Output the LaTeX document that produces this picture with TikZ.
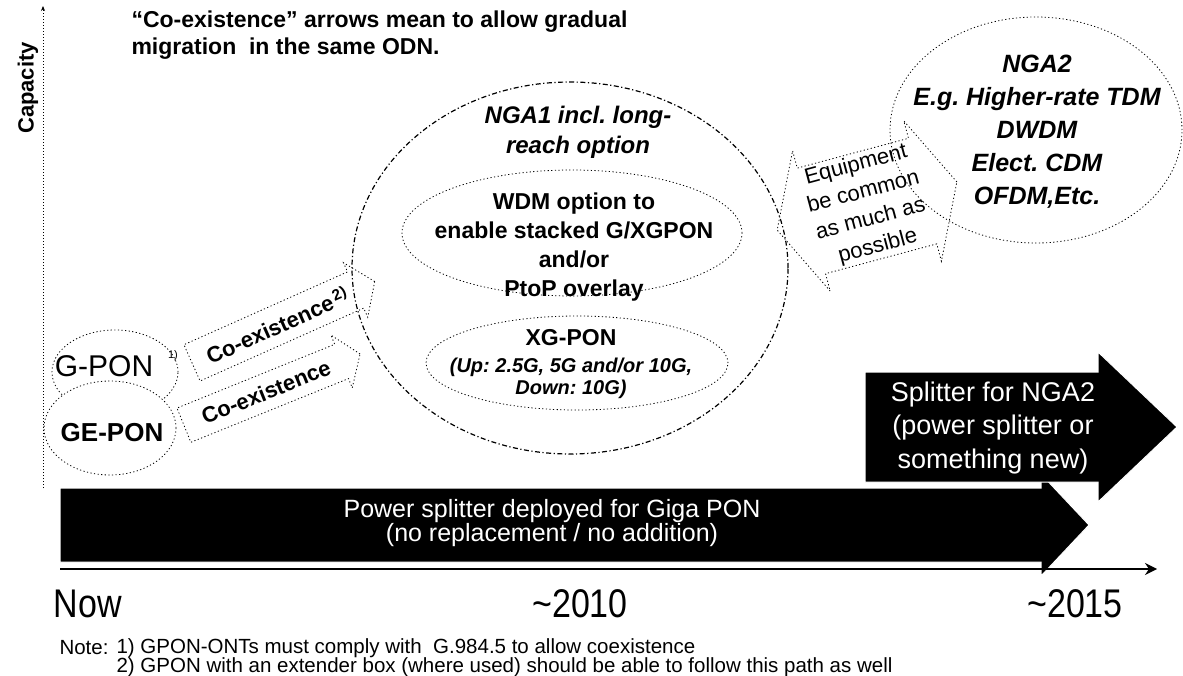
\documentclass[tikz,border=0pt]{standalone}
\usepackage{fontspec}
\setmainfont{Liberation Sans}
\newfontfamily\narrowfont[FakeStretch=0.85]{Liberation Sans}
\usetikzlibrary{arrows.meta,positioning,shapes.geometric,shapes.arrows}
\frenchspacing

\begin{document}
\begin{tikzpicture}[x=1pt, y=-1pt, >=Stealth,
  oval/.style={draw, ellipse, line width=0.8pt, dash pattern=on 1.2pt off 2.4pt, inner sep=0pt},
  bigoval/.style={draw, ellipse, line width=1.2pt, dash pattern=on 5pt off 2.5pt on 1.2pt off 2.5pt, inner sep=0pt},
  coexarrow/.style={draw, single arrow, line width=0.8pt, dash pattern=on 1.2pt off 2.4pt,
    single arrow head extend=10pt, single arrow tip angle=110, inner xsep=3pt, inner ysep=10pt,
    font=\fontsize{22}{22}\selectfont\bfseries},
  equiparrow/.style={draw, double arrow, line width=0.8pt, dash pattern=on 1.2pt off 2.4pt,
    double arrow head extend=18pt, double arrow tip angle=128, minimum height=186pt,
    inner xsep=0pt, inner ysep=2pt, align=center, font=\fontsize{22}{28}\selectfont},
  bigarrow/.style={fill=black, draw=white, line width=1pt},
  boldtxt/.style={align=center, font=\fontsize{23}{29}\selectfont\bfseries},
  italtxt/.style={align=center, font=\fontsize{24}{30}\selectfont\bfseries\itshape},
  whitetxt/.style={align=center, text=white},
  yearlbl/.style={font=\fontsize{40}{40}\narrowfont},
  notelbl/.style={anchor=west, font=\fontsize{20.5}{20.5}\selectfont},
]
\useasboundingbox (0,0) rectangle (1183,676);

  % Axes
  \node (cap) [rotate=90, font=\fontsize{22}{22}\selectfont\bfseries] at (28,88) {Capacity};
  \coordinate (ytop) at (43,6);
  \coordinate (ybot) at (43,488);
  \coordinate (xstart) at (60,569);
  \coordinate (xend) at (1157,569);
  \draw[-{Stealth[length=5pt,width=4pt]}, line width=0.8pt, dash pattern=on 1.2pt off 1.8pt] (ybot) -- (ytop);

  % Black bars
  \draw[bigarrow] (60,488) -- (1041,488) -- (1041,474) -- (1089,525) -- (1041,576) -- (1041,562) -- (60,562) -- cycle;
  \draw[bigarrow] (865,372) -- (1098,372) -- (1098,352) -- (1177,427) -- (1098,502) -- (1098,482) -- (865,482) -- cycle;
  \draw[-{Stealth[length=12pt,width=12pt]}, line width=1.6pt] (xstart) -- (xend);
  \node (powertxt) [whitetxt, font=\fontsize{25}{24}\selectfont] at (552,523) {Power splitter deployed for Giga PON\\(no replacement / no addition)};
  \node (splittxt) [whitetxt, font=\fontsize{27}{33.5}\selectfont] at (993,428) {Splitter for NGA2\\(power splitter or\\something new)};

  % Top remark
  \node (remark) [anchor=west, align=left, font=\fontsize{23}{27}\selectfont\bfseries] at (128,35)
    {“Co-existence” arrows mean to allow gradual\\migration\ \ in the same ODN.};

  % Existing PONs
  \node (gpon) [oval, minimum width=126pt, minimum height=84pt] at (115,372) {};
  \node (gpontxt) [font=\fontsize{30}{30}\selectfont] at (104,366) {G-PON};
  \node (gponfn) [font=\fontsize{11}{11}\selectfont] at (173,356) {1)};
  \node (gepon) [oval, fill=white, minimum width=132pt, minimum height=94pt] at (110,428) {};
  \node (gepontxt) [font=\fontsize{26}{26}\selectfont\bfseries] at (112,433) {GE-PON};

  % Co-existence arrows
  \node (coexup) [coexarrow, rotate=24, minimum height=200pt] at (277,325) {Co-existence\textsuperscript{\,2)}};
  \node (coexlow) [coexarrow, rotate=22, minimum height=190pt] at (266,392) {Co-existence};

  % NGA1
  \node (nga1) [bigoval, minimum width=436pt, minimum height=372pt] at (570,268) {};
  \node (nga1txt) [italtxt] at (578,132) {NGA1 incl. long-\\reach option};
  \node (wdm) [oval, minimum width=340pt, minimum height=126pt] at (572,233) {};
  \node (wdmtxt) [boldtxt] at (574,247) {WDM option to\\enable stacked G/XGPON\\and/or\\PtoP overlay};
  \node (xgpon) [oval, minimum width=302pt, minimum height=94pt] at (577,363) {};
  \node (xgtxt) [boldtxt] at (571,338) {XG-PON};
  \node (xgrate) [align=center, font=\fontsize{20}{22}\selectfont\bfseries\itshape] at (571,378) {(Up: 2.5G, 5G and/or 10G,\\Down: 10G)};

  % NGA2
  \node (equip) [equiparrow, rotate=15] at (867,206) {Equipment\\be common\\as much as\\possible};
  \node (nga2) [oval, minimum width=292pt, minimum height=226pt] at (1036,130) {};
  \node (nga2txt) [align=center, font=\fontsize{25}{33}\selectfont\bfseries\itshape] at (1037,132)
    {NGA2\\E.g. Higher-rate TDM\\DWDM\\Elect. CDM\\OFDM,Etc.};

  % Time labels and notes
  \node (now) [yearlbl] at (88,604) {Now};
  \node (y2010) [yearlbl] at (580,604) {\textasciitilde2010};
  \node (y2015) [yearlbl] at (1075,604) {\textasciitilde2015};
  \node (notehead) [notelbl] at (56,648) {Note:};
  \node (note1) [notelbl] at (113,648) {1) GPON-ONTs must comply with\ \ G.984.5 to allow coexistence};
  \node (note2) [notelbl] at (113,667) {2) GPON with an extender box (where used) should be able to follow this path as well};
\end{tikzpicture}
\end{document}
